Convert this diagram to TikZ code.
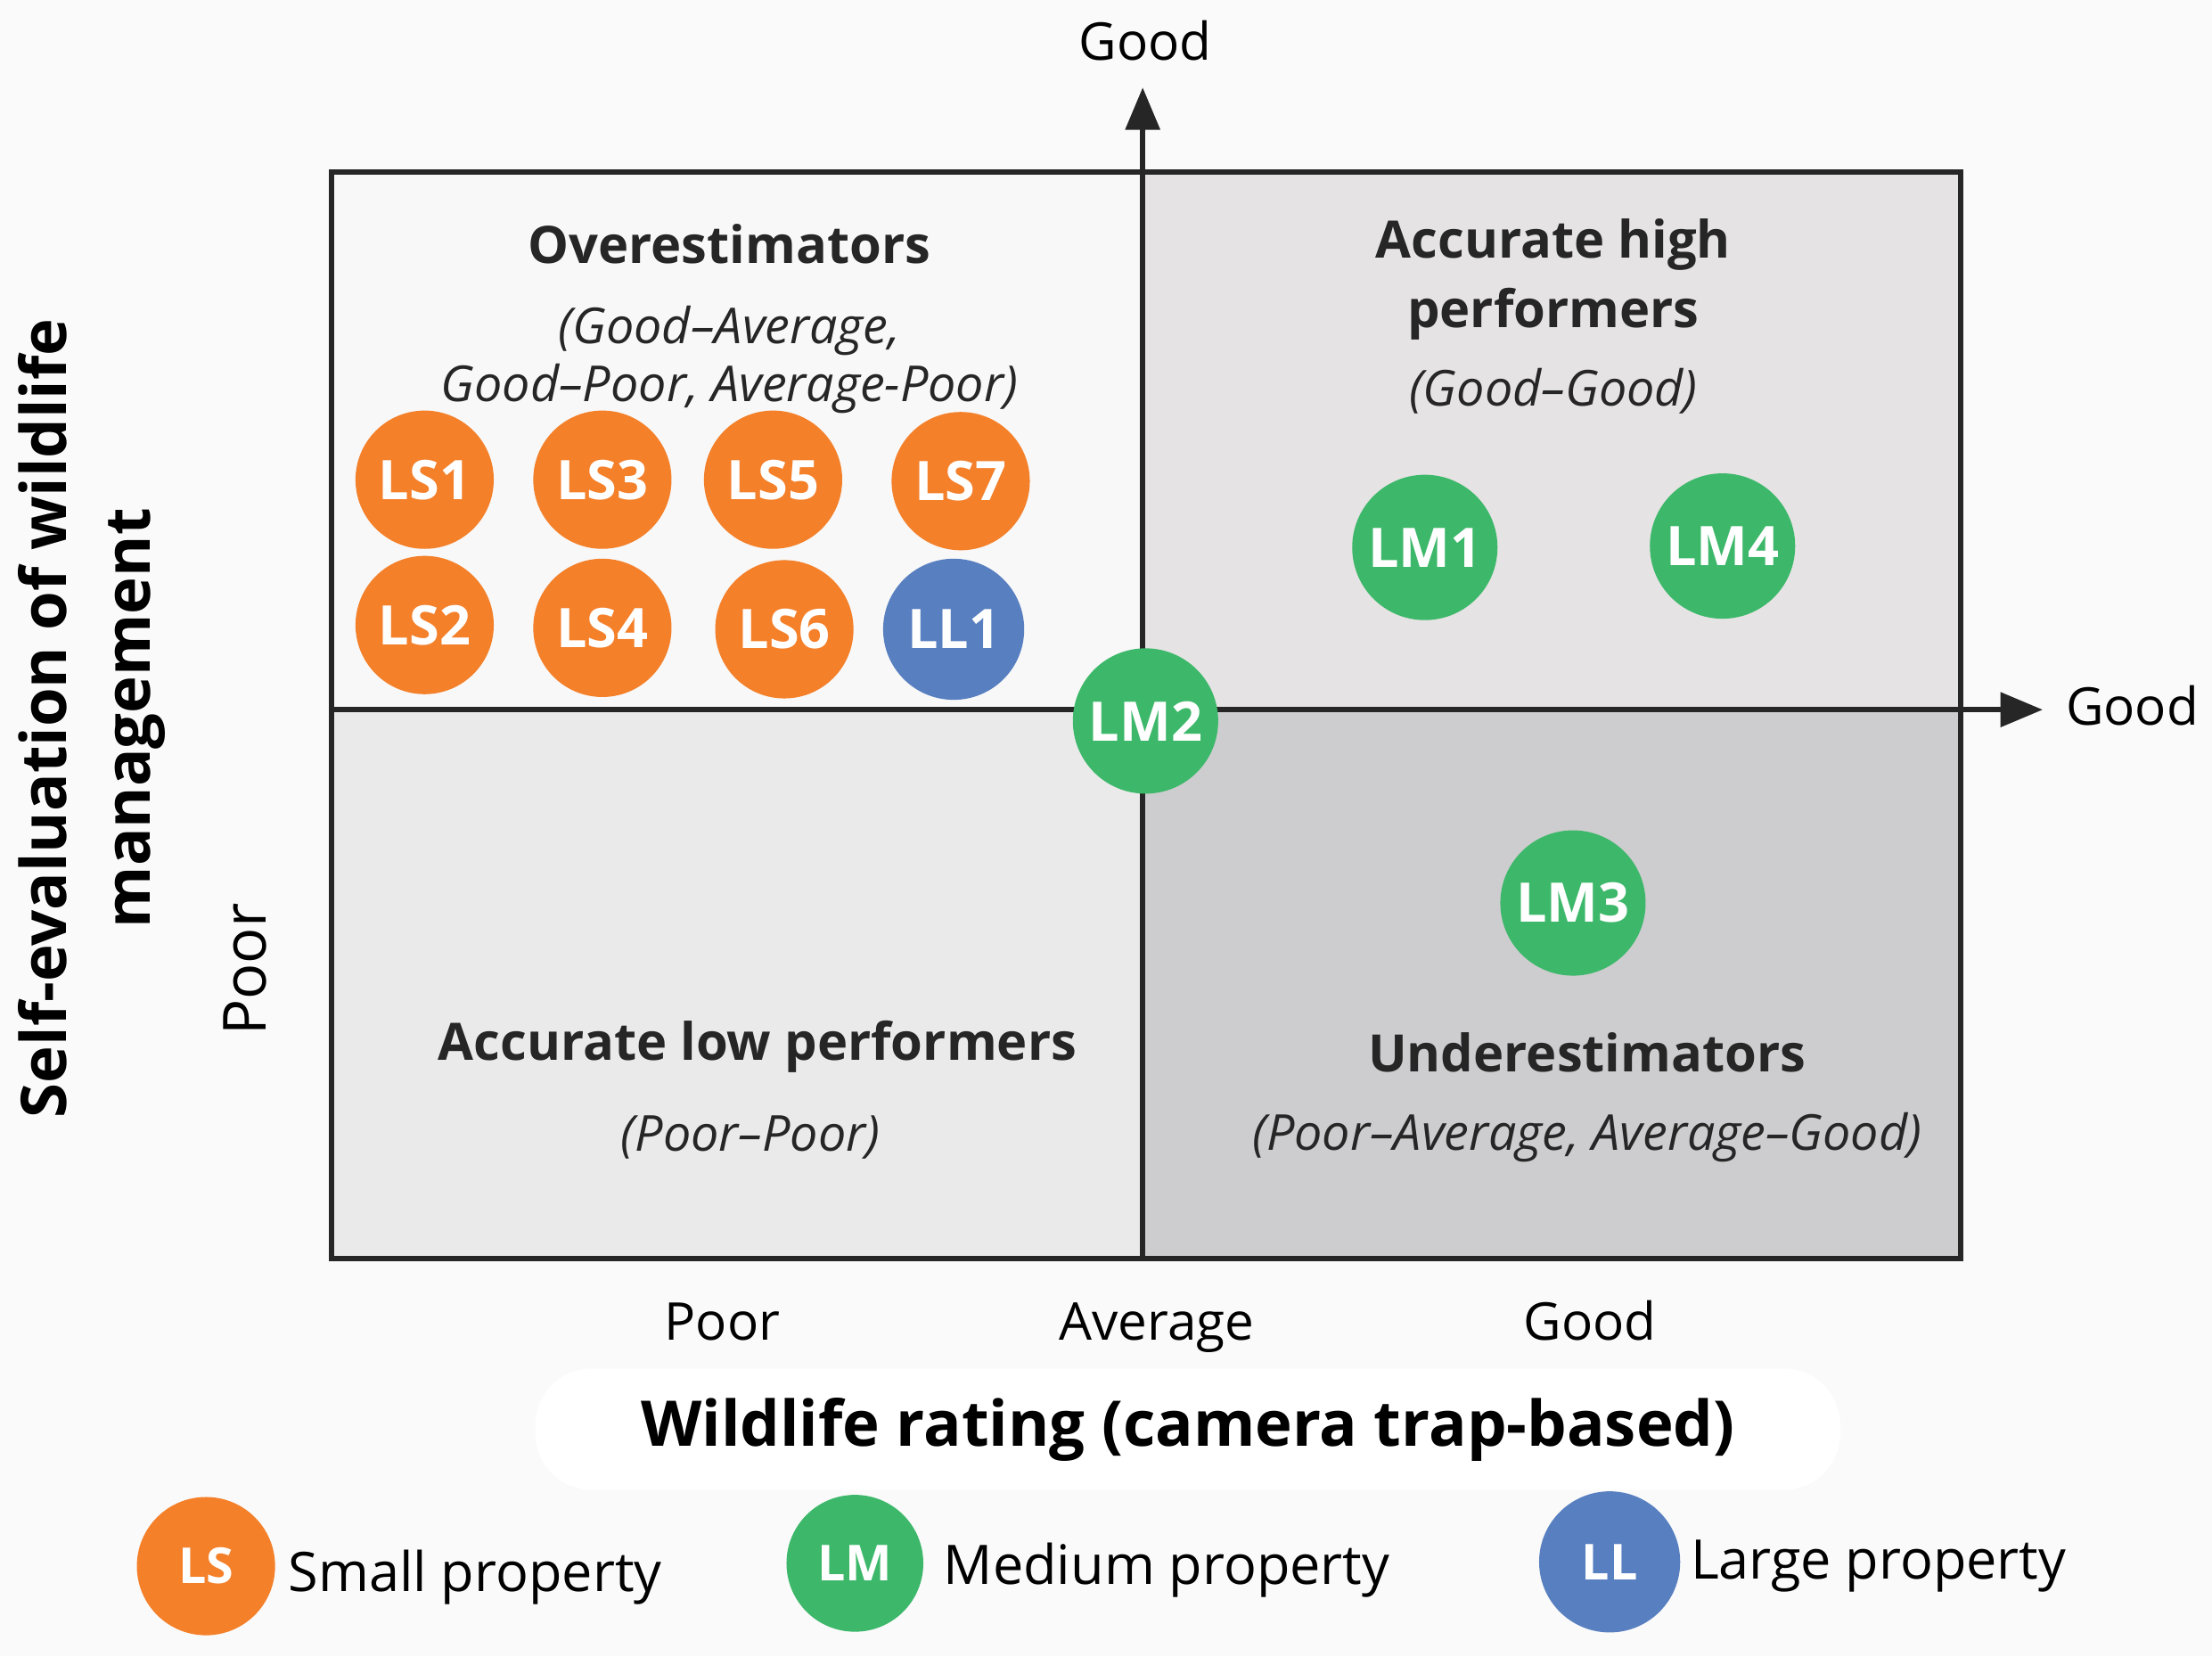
\documentclass[tikz,border=0pt]{standalone}
\usepackage{fontspec}
\setmainfont{Open Sans}
\usetikzlibrary{arrows.meta, positioning}
\definecolor{lsorange}{RGB}{244, 128, 42}
\definecolor{lmgreen}{RGB}{61, 184, 106}
\definecolor{llblue}{RGB}{88, 127, 192}
\definecolor{bgpaper}{RGB}{250, 250, 250}
\definecolor{qover}{RGB}{248, 248, 248}
\definecolor{qhigh}{RGB}{229, 227, 227}
\definecolor{qlow}{RGB}{234, 234, 235}
\definecolor{qunder}{RGB}{205, 204, 206}

\begin{document}
\begin{tikzpicture}[
  prop/.style={circle, inner sep=0pt, minimum size=0.98cm, text=white,
               font=\bfseries\fontsize{11}{12}\selectfont},
  lsdot/.style={prop, fill=lsorange},
  lmdot/.style={prop, fill=lmgreen, minimum size=1.03cm},
  lldot/.style={prop, fill=llblue, minimum size=1.0cm},
  qtitle/.style={font=\bfseries\fontsize{10.4}{14}\selectfont, align=center, text=black!85},
  qsub/.style={font=\itshape\fontsize{10}{11.6}\selectfont, align=center, text=black!85},
  tick/.style={font=\fontsize{10.5}{12}\selectfont, text height=1.55ex, text depth=0.4ex},
  legtxt/.style={font=\fontsize{11}{12}\selectfont, anchor=west, inner sep=0pt},
  arr/.style={-{Triangle[length=0.3cm, width=0.24cm]}, line width=1.1pt, black!85}
]
  \useasboundingbox[fill=bgpaper] (0,0) rectangle (15.68,11.74);

  % frame of the four quadrants
  \coordinate (bl) at (2.35, 2.82);
  \coordinate (tr) at (13.90, 10.52);
  \coordinate (mid) at (8.10, 6.71);
  \fill[qover] (bl |- mid) rectangle (mid |- tr);
  \fill[qhigh] (mid) rectangle (tr);
  \fill[qlow] (bl) rectangle (mid);
  \fill[qunder] (mid |- bl) rectangle (tr |- mid);
  \draw[line width=1.1pt, black!85] (bl) rectangle (tr);

  % axes
  \node[tick] (ygood) at (8.12, 11.42) {Good};
  \node[tick, anchor=west] (xgood) at (14.52, 6.71) {Good};
  \coordinate (ytip) at (8.10, 11.12);
  \coordinate (xtip) at (14.48, 6.71);
  \draw[arr] (mid |- bl) -- (ytip);
  \draw[arr] (bl |- mid) -- (xtip);

  \node[tick] (xpoor) at (5.12, 2.35) {Poor};
  \node[tick] (xavg) at (8.20, 2.35) {Average};
  \node[tick] (xgood2) at (11.27, 2.35) {Good};
  \node[fill=white, rounded corners=0.4cm, minimum width=9.25cm, minimum height=0.86cm,
        font=\bfseries\fontsize{12.7}{15}\selectfont] (xtitle) at (8.42, 1.61)
    {Wildlife rating (camera trap-based)};

  \node[rotate=90, align=center, font=\bfseries\fontsize{12.7}{17}\selectfont] (ytitle) at (0.65, 6.65)
    {Self-evaluation of wildlife\\management};
  \node[tick, rotate=90, font=\fontsize{12}{13}\selectfont] (ypoor) at (1.78, 4.87) {Poor};

  % quadrant labels
  \node[qtitle] (over) at (5.17, 10.01) {Overestimators};
  \node[qsub] (oversub) at (5.17, 9.19) {(Good--Average,\\Good--Poor, Average-Poor)};
  \node[qtitle] (high) at (11.01, 9.76) {Accurate high\\performers};
  \node[qsub] (highsub) at (11.01, 8.97) {(Good--Good)};
  \node[qtitle] (low) at (5.37, 4.32) {Accurate low performers};
  \node[qsub] (lowsub) at (5.32, 3.68) {(Poor--Poor)};
  \node[qtitle] (under) at (11.25, 4.28) {Underestimators};
  \node[qsub] (undersub) at (11.25, 3.68) {(Poor--Average, Average--Good)};

  % properties
  \node[lsdot] (ls1) at (3.01, 8.34) {LS1};
  \node[lsdot] (ls3) at (4.27, 8.34) {LS3};
  \node[lsdot] (ls5) at (5.48, 8.34) {LS5};
  \node[lsdot] (ls7) at (6.81, 8.33) {LS7};
  \node[lsdot] (ls2) at (3.01, 7.31) {LS2};
  \node[lsdot] (ls4) at (4.27, 7.29) {LS4};
  \node[lsdot] (ls6) at (5.56, 7.28) {LS6};
  \node[lldot] (ll1) at (6.76, 7.28) {LL1};
  \node[lmdot] (lm1) at (10.10, 7.86) {LM1};
  \node[lmdot] (lm4) at (12.21, 7.87) {LM4};
  \node[lmdot] (lm2) at (8.12, 6.63) {LM2};
  \node[lmdot] (lm3) at (11.15, 5.34) {LM3};

  % legend
  \node[lsdot, font=\bfseries\fontsize{10}{12}\selectfont] (legls) at (1.46, 0.64) {LS};
  \node[legtxt, right=0.08cm of legls, yshift=-0.08cm] (leglstxt) {Small property};
  \node[lmdot, font=\bfseries\fontsize{10}{12}\selectfont, minimum size=0.97cm] (leglm) at (6.06, 0.66) {LM};
  \node[legtxt, right=0.13cm of leglm, yshift=-0.05cm] (leglmtxt) {Medium property};
  \node[lldot, font=\bfseries\fontsize{10}{12}\selectfont] (legll) at (11.41, 0.67) {LL};
  \node[legtxt, right=0.06cm of legll, yshift=-0.03cm] (leglltxt) {Large property};
\end{tikzpicture}
\end{document}
